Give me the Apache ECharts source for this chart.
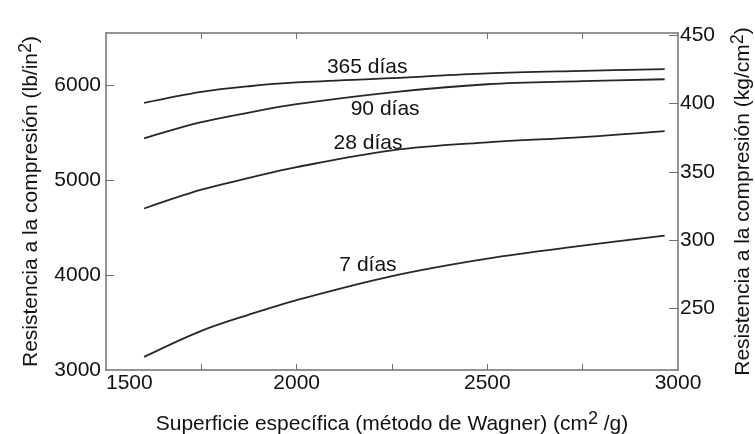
<!DOCTYPE html>
<html>
<head>
<meta charset="utf-8">
<script src="https://cdn.jsdelivr.net/npm/echarts@6/dist/echarts.min.js"></script>
<style>
  html, body { margin: 0; padding: 0; background: #fff; }
  #chart { width: 755px; height: 434px; }
</style>
</head>
<body>
<div id="chart"></div>
<script>
// superficie específica (cm2/g)
const superficie = [1600, 1750, 1875, 2000, 2250, 2500, 2750, 2965];

// resistencia (lb/in2) por edad
const dias365 = [5813, 5929, 5989, 6029, 6074, 6125, 6151, 6169];
const dias90 = [5440, 5610, 5712, 5800, 5925, 6010, 6042, 6063];
const dias28 = [4701, 4899, 5023, 5137, 5314, 5398, 5454, 5517];
const dias7 = [3138, 3413, 3584, 3737, 3990, 4174, 4310, 4416];

// rótulos de las curvas
const rotulos = ['365 días', '90 días', '28 días', '7 días'];
const rotuloX = [2185, 2232, 2187, 2187];
const rotuloY = [6193, 5743, 5391, 4099];

const xLabels = [1500, 2000, 2500, 3000];
const xTicks = [1750, 2000, 2250, 2500, 2750];
const lbLabels = [3000, 4000, 5000, 6000];
const kgLabels = [250, 300, 350, 400, 450];

const font = 'Liberation Sans, Arial, sans-serif';
const fs = 21;
const axisGray = '#707070';
const lineColor = '#262626';

function pares(vals) {
  return superficie.map((x, i) => [x, vals[i]]);
}

function curva(vals) {
  return {
    type: 'line',
    data: pares(vals),
    smooth: 0.35,
    showSymbol: false,
    animation: false,
    lineStyle: { color: lineColor, width: 1.8 }
  };
}

function plano(v) {
  return String(v);
}

const supRich = {
  sup: { fontSize: 18, fontFamily: font, color: '#111', padding: [0, 0, 10, 0] }
};

const myChart = echarts.init(document.getElementById('chart'));

const option = {
  backgroundColor: '#fff',
  textStyle: { fontFamily: font, color: '#111' },
  grid: { left: 106, right: 77, top: 33, bottom: 64, outerBoundsMode: 'none', containLabel: false },
  xAxis: [
    {
      type: 'value',
      min: 1500,
      max: 3000,
      interval: 250,
      name: 'Superficie específica (método de Wagner) (cm{sup|2} /g)',
      nameLocation: 'middle',
      nameGap: 40,
      nameTextStyle: { fontSize: fs, fontFamily: font, color: '#111', rich: supRich },
      axisLine: { show: true, lineStyle: { color: axisGray, width: 1.5 } },
      axisTick: { show: true, inside: true, length: 6, customValues: xTicks, lineStyle: { color: axisGray } },
      axisLabel: {
        customValues: xLabels,
        formatter: plano,
        fontSize: fs,
        color: '#111',
        margin: 3,
        alignMinLabel: 'left'
      },
      splitLine: { show: false }
    },
    {
      type: 'value',
      position: 'top',
      min: 1500,
      max: 3000,
      interval: 250,
      axisLine: { show: true, lineStyle: { color: axisGray, width: 1.5 } },
      axisTick: { show: true, inside: true, length: 6, customValues: [1750, 2000, 2500, 2750], lineStyle: { color: axisGray } },
      axisLabel: { show: false },
      splitLine: { show: false }
    }
  ],
  yAxis: [
    {
      type: 'value',
      min: 3000,
      max: 6550,
      name: 'Resistencia a la compresión (lb/in{sup|2})',
      nameLocation: 'middle',
      nameRotate: 90,
      nameGap: 61,
      nameTextStyle: { fontSize: fs, fontFamily: font, color: '#111', rich: supRich },
      axisLine: { show: true, lineStyle: { color: axisGray, width: 1.5 } },
      axisTick: { show: true, inside: true, length: 8, customValues: [4000, 5000, 6000], lineStyle: { color: axisGray } },
      axisLabel: { customValues: lbLabels, formatter: plano, fontSize: fs, color: '#111', margin: 5 },
      splitLine: { show: false }
    },
    {
      type: 'value',
      position: 'right',
      min: 205,
      max: 451.5,
      name: 'Resistencia a la compresión (kg/cm{sup|2})',
      nameLocation: 'middle',
      nameRotate: 90,
      nameGap: 51,
      nameTextStyle: { fontSize: fs, fontFamily: font, color: '#111', rich: supRich },
      axisLine: { show: true, lineStyle: { color: axisGray, width: 1.5 } },
      axisTick: { show: true, inside: true, length: 9, customValues: kgLabels, lineStyle: { color: axisGray } },
      axisLabel: { customValues: kgLabels, formatter: plano, fontSize: fs, color: '#111', margin: 2 },
      splitLine: { show: false }
    }
  ],
  series: [
    curva(dias365),
    curva(dias90),
    curva(dias28),
    curva(dias7),
    {
      type: 'scatter',
      animation: false,
      symbolSize: 0,
      itemStyle: { color: '#111', opacity: 1 },
      data: rotulos.map((t, i) => ({ name: t, value: [rotuloX[i], rotuloY[i]] })),
      label: {
        show: true,
        position: 'inside',
        formatter: '{b}',
        fontSize: fs,
        fontFamily: font,
        color: '#111'
      }
    }
  ]
};

myChart.setOption(option);
</script>
</body>
</html>
